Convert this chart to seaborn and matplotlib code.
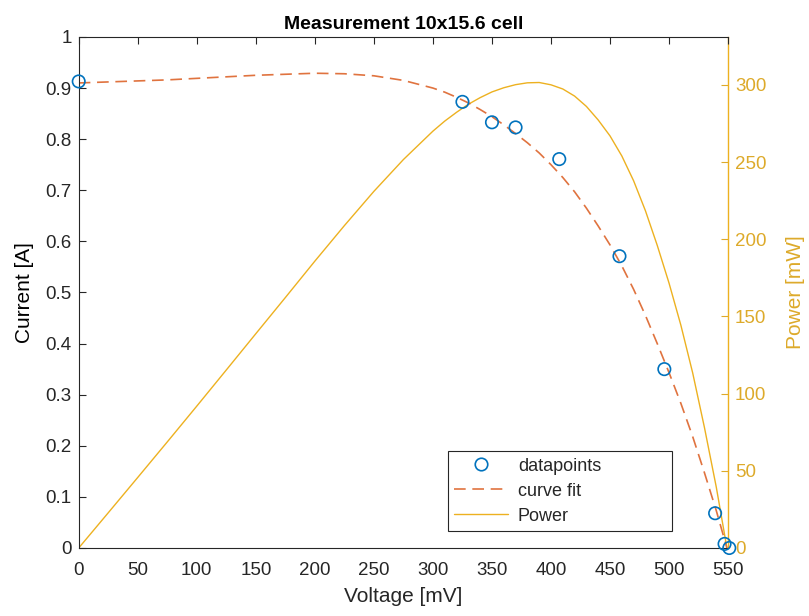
import matplotlib
matplotlib.use("Agg")
import matplotlib.pyplot as plt
import seaborn as sns
import pandas as pd
from matplotlib.lines import Line2D

# ---- data ----
meas_voltage = [0, 325, 350, 370, 407, 458, 496, 539, 547, 551]
meas_current = [0.913, 0.873, 0.833, 0.823, 0.761, 0.571, 0.350, 0.068, 0.008, 0.0]

fit_voltage = [0, 25, 50, 75, 100, 125, 150, 175, 200, 225, 250, 275, 300,
               310, 320, 330, 340, 350, 360, 370, 380, 390, 400, 410, 420, 430,
               440, 450, 460, 470, 480, 490, 500, 510, 520, 530, 540, 549]
fit_current = [0.910, 0.912, 0.914, 0.916, 0.919, 0.922, 0.925, 0.927, 0.929,
               0.928, 0.924, 0.915, 0.900,
               0.892, 0.882, 0.871, 0.858, 0.844, 0.828, 0.811, 0.793, 0.773,
               0.750, 0.725, 0.697, 0.665, 0.630, 0.593, 0.552, 0.506, 0.455,
               0.400, 0.343, 0.283, 0.218, 0.147, 0.073, 0.0]
power_mw = [0, 22.8, 45.7, 68.7, 91.9, 115.3, 138.8, 162.2, 185.8, 208.8, 231.0,
            251.6, 270.0,
            276.5, 282.2, 287.4, 291.7, 295.4, 298.1, 300.1, 301.3, 301.5,
            300.0, 297.3, 292.7, 286.0, 277.2, 266.9, 253.9, 237.8, 218.4,
            196.0, 171.5, 144.3, 113.4, 77.9, 39.4, 0.0]

x_ticks = list(range(0, 551, 50))
left_ticks = [0, 0.1, 0.2, 0.3, 0.4, 0.5, 0.6, 0.7, 0.8, 0.9, 1]
left_labels = ["0", "0.1", "0.2", "0.3", "0.4", "0.5", "0.6", "0.7", "0.8", "0.9", "1"]
right_ticks = [0, 50, 100, 150, 200, 250, 300]

BLUE = "#0072BD"
ORANGE = "#E0733F"
GOLD = "#EDB120"
GOLD_TXT = "#DDAA2A"
DARK = "#262626"

sns.set_style("white")
plt.rcParams["font.family"] = ["Liberation Sans", "DejaVu Sans"]

fig = plt.figure(figsize=(8.09, 6.16), dpi=100)
ax = fig.add_axes([0.0973, 0.1104, 0.8027, 0.8296])
ax2 = ax.twinx()

df_meas = pd.DataFrame({"V": meas_voltage, "I": meas_current})
df_fit = pd.DataFrame({"V": fit_voltage, "I": fit_current, "P": power_mw})

sns.lineplot(data=df_fit, x="V", y="I", ax=ax, color=ORANGE, lw=1.2,
             linestyle=(0, (7, 4)), sort=False, estimator=None, legend=False)
sns.lineplot(data=df_fit, x="V", y="P", ax=ax2, color=GOLD, lw=1.0,
             sort=False, estimator=None, legend=False)
sns.scatterplot(data=df_meas, x="V", y="I", ax=ax, marker="o", s=80,
                facecolor="none", edgecolor=BLUE, linewidth=1.2, clip_on=False,
                zorder=5, legend=False)

ax.set_zorder(ax2.get_zorder() + 1)
ax.patch.set_visible(False)

ax.set_xlim(0, 550)
ax.set_ylim(0, 1)
ax2.set_ylim(0, 331)
ax.set_xticks(x_ticks)
ax.set_xticklabels([str(t) for t in x_ticks])
ax.set_yticks(left_ticks)
ax.set_yticklabels(left_labels)
ax2.set_yticks(right_ticks)
ax2.set_yticklabels([str(t) for t in right_ticks])

ax.tick_params(axis="both", direction="in", length=5, width=0.8, colors=DARK,
               labelsize=13.5, pad=5)
ax.tick_params(axis="x", top=True, labeltop=False, pad=10)
ax.tick_params(axis="y", right=False)
ax2.tick_params(axis="y", direction="in", length=5, width=0.8, colors=GOLD_TXT,
                labelsize=13.5, pad=5)

for s in ["left", "bottom", "top"]:
    ax.spines[s].set_color(DARK)
    ax.spines[s].set_linewidth(0.8)
ax.spines["right"].set_visible(False)
for s in ["left", "bottom", "top"]:
    ax2.spines[s].set_visible(False)
ax2.spines["right"].set_color(GOLD)
ax2.spines["right"].set_linewidth(1.0)

ax.set_xlabel("Voltage [mV]", fontsize=15, color=DARK, labelpad=6)
ax.set_ylabel("Current [A]", fontsize=15, color="#000000", labelpad=8)
ax2.set_ylabel("Power [mW]", fontsize=15, color=GOLD_TXT, labelpad=14)
ax.set_title("Measurement 10x15.6 cell", fontsize=14, fontweight="bold",
             color="#000000", pad=6)

handles = [
    Line2D([], [], marker="o", linestyle="none", markerfacecolor="none",
           markeredgecolor=BLUE, markersize=9, markeredgewidth=1.2),
    Line2D([], [], color=ORANGE, lw=1.2, linestyle=(0, (7, 4))),
    Line2D([], [], color=GOLD, lw=1.0),
]
leg = ax.legend(handles, ["datapoints", "curve fit", "Power"],
                loc="lower left", bbox_to_anchor=(0.568, 0.033, 0.345, 0.15),
                mode="expand",
                fontsize=13, frameon=True, fancybox=False, framealpha=1,
                edgecolor=DARK, handlelength=3.0, handletextpad=0.55,
                borderpad=0.35, labelspacing=0.45, borderaxespad=0)
leg.get_frame().set_linewidth(0.8)

fig.savefig("out.png", dpi=100)
